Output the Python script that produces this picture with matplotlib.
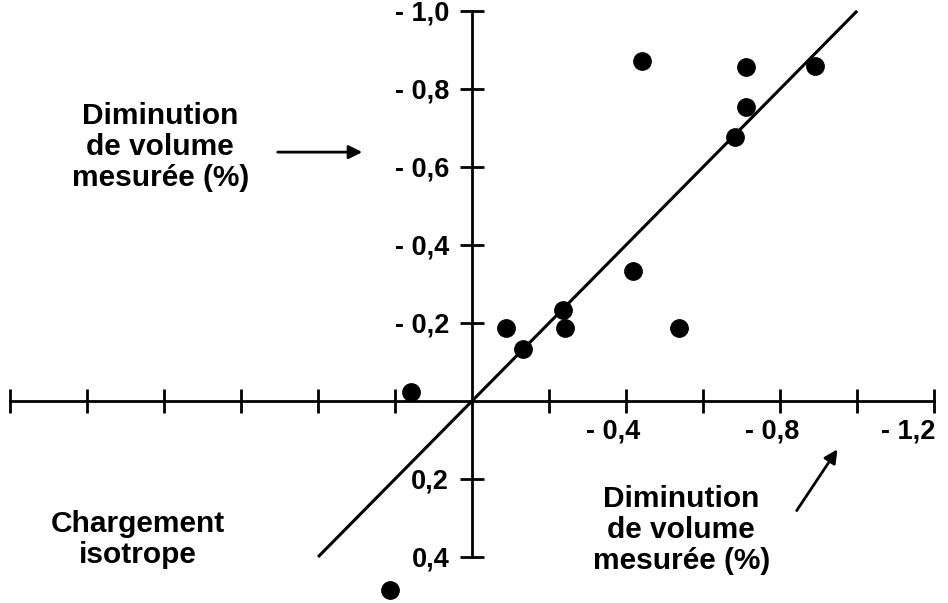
import numpy as np
import matplotlib
matplotlib.use('Agg')
import matplotlib.pyplot as plt
import matplotlib.transforms as mtransforms

plt.rcParams['font.family'] = ['Liberation Sans', 'DejaVu Sans']
plt.rcParams['font.weight'] = 'bold'

# measured decrease (x) vs measured decrease (y), in % (plotted as positive decrease)
x_vals = [-0.158, -0.213, 0.088, 0.132, 0.236, 0.242, 0.418, 0.442, 0.538, 0.683, 0.712, 0.712, 0.891]
y_vals = [0.023, -0.485, 0.187, 0.133, 0.233, 0.187, 0.333, 0.872, 0.187, 0.677, 0.754, 0.856, 0.859]

# fitted line y = x
fit_x = [-0.4, 1.0]
fit_y = [-0.4, 1.0]

x_ticks = [-1.2, -1.0, -0.8, -0.6, -0.4, -0.2, 0.2, 0.4, 0.6, 0.8, 1.0, 1.2]
x_labels = ['', '', '', '', '', '', '', '- 0,4', '', '- 0,8', '', '- 1,2']
y_ticks = [-0.4, -0.2, 0.2, 0.4, 0.6, 0.8, 1.0]
y_labels = ['0,4', '0,2', '- 0,2', '- 0,4', '- 0,6', '- 0,8', '- 1,0']

fig = plt.figure(figsize=(9.48, 6.03), dpi=100)
ax = fig.add_axes([0, 0, 1, 1])
ax.set_xlim(-1.226, 1.236)
ax.set_ylim(-0.518, 1.028)

# axes crossing at origin
for side in ['top', 'right']:
    ax.spines[side].set_visible(False)
ax.spines['left'].set_position(('data', 0))
ax.spines['bottom'].set_position(('data', 0))
ax.spines['left'].set_bounds(-0.4, 1.0)
ax.spines['bottom'].set_bounds(-1.2, 1.2)
ax.spines['left'].set_linewidth(2)
ax.spines['bottom'].set_linewidth(2)

ax.set_xticks(x_ticks)
ax.set_xticklabels(x_labels)
ax.set_yticks(y_ticks)
ax.set_yticklabels(y_labels)
ax.tick_params(direction='inout', length=17, width=2, labelsize=19.5)
ax.tick_params(axis='x', pad=4)
ax.tick_params(axis='y', pad=8)

# x labels sit a bit left of their ticks in the original
x_shift = {'- 0,4': -13, '- 0,8': -8, '- 1,2': -26}
for lab in ax.get_xticklabels():
    dx = x_shift.get(lab.get_text(), 0)
    lab.set_transform(lab.get_transform() + mtransforms.ScaledTranslation(dx / 100, 0, fig.dpi_scale_trans))

ax.plot(fit_x, fit_y, color='black', lw=2.2, solid_capstyle='butt')
ax.plot(x_vals, y_vals, 'o', color='black', ms=12.5, clip_on=False)

# annotations
ax.text(-0.81, 0.651, 'Diminution\nde volume\nmesurée (%)', ha='center', va='center',
        fontsize=21.5, fontweight='bold', linespacing=1.12)
ax.annotate('', xy=(-0.278, 0.638), xytext=(-0.512, 0.638),
            arrowprops=dict(arrowstyle='-|>', color='black', lw=2, mutation_scale=20))

ax.text(0.543, -0.331, 'Diminution\nde volume\nmesurée (%)', ha='center', va='center',
        fontsize=21.5, fontweight='bold', linespacing=1.12)
ax.annotate('', xy=(0.953, -0.118), xytext=(0.839, -0.287),
            arrowprops=dict(arrowstyle='-|>', color='black', lw=2, mutation_scale=20))

ax.text(-0.868, -0.356, 'Chargement\nisotrope', ha='center', va='center',
        fontsize=21.5, fontweight='bold', linespacing=1.12)

fig.savefig('out.png', dpi=100)
